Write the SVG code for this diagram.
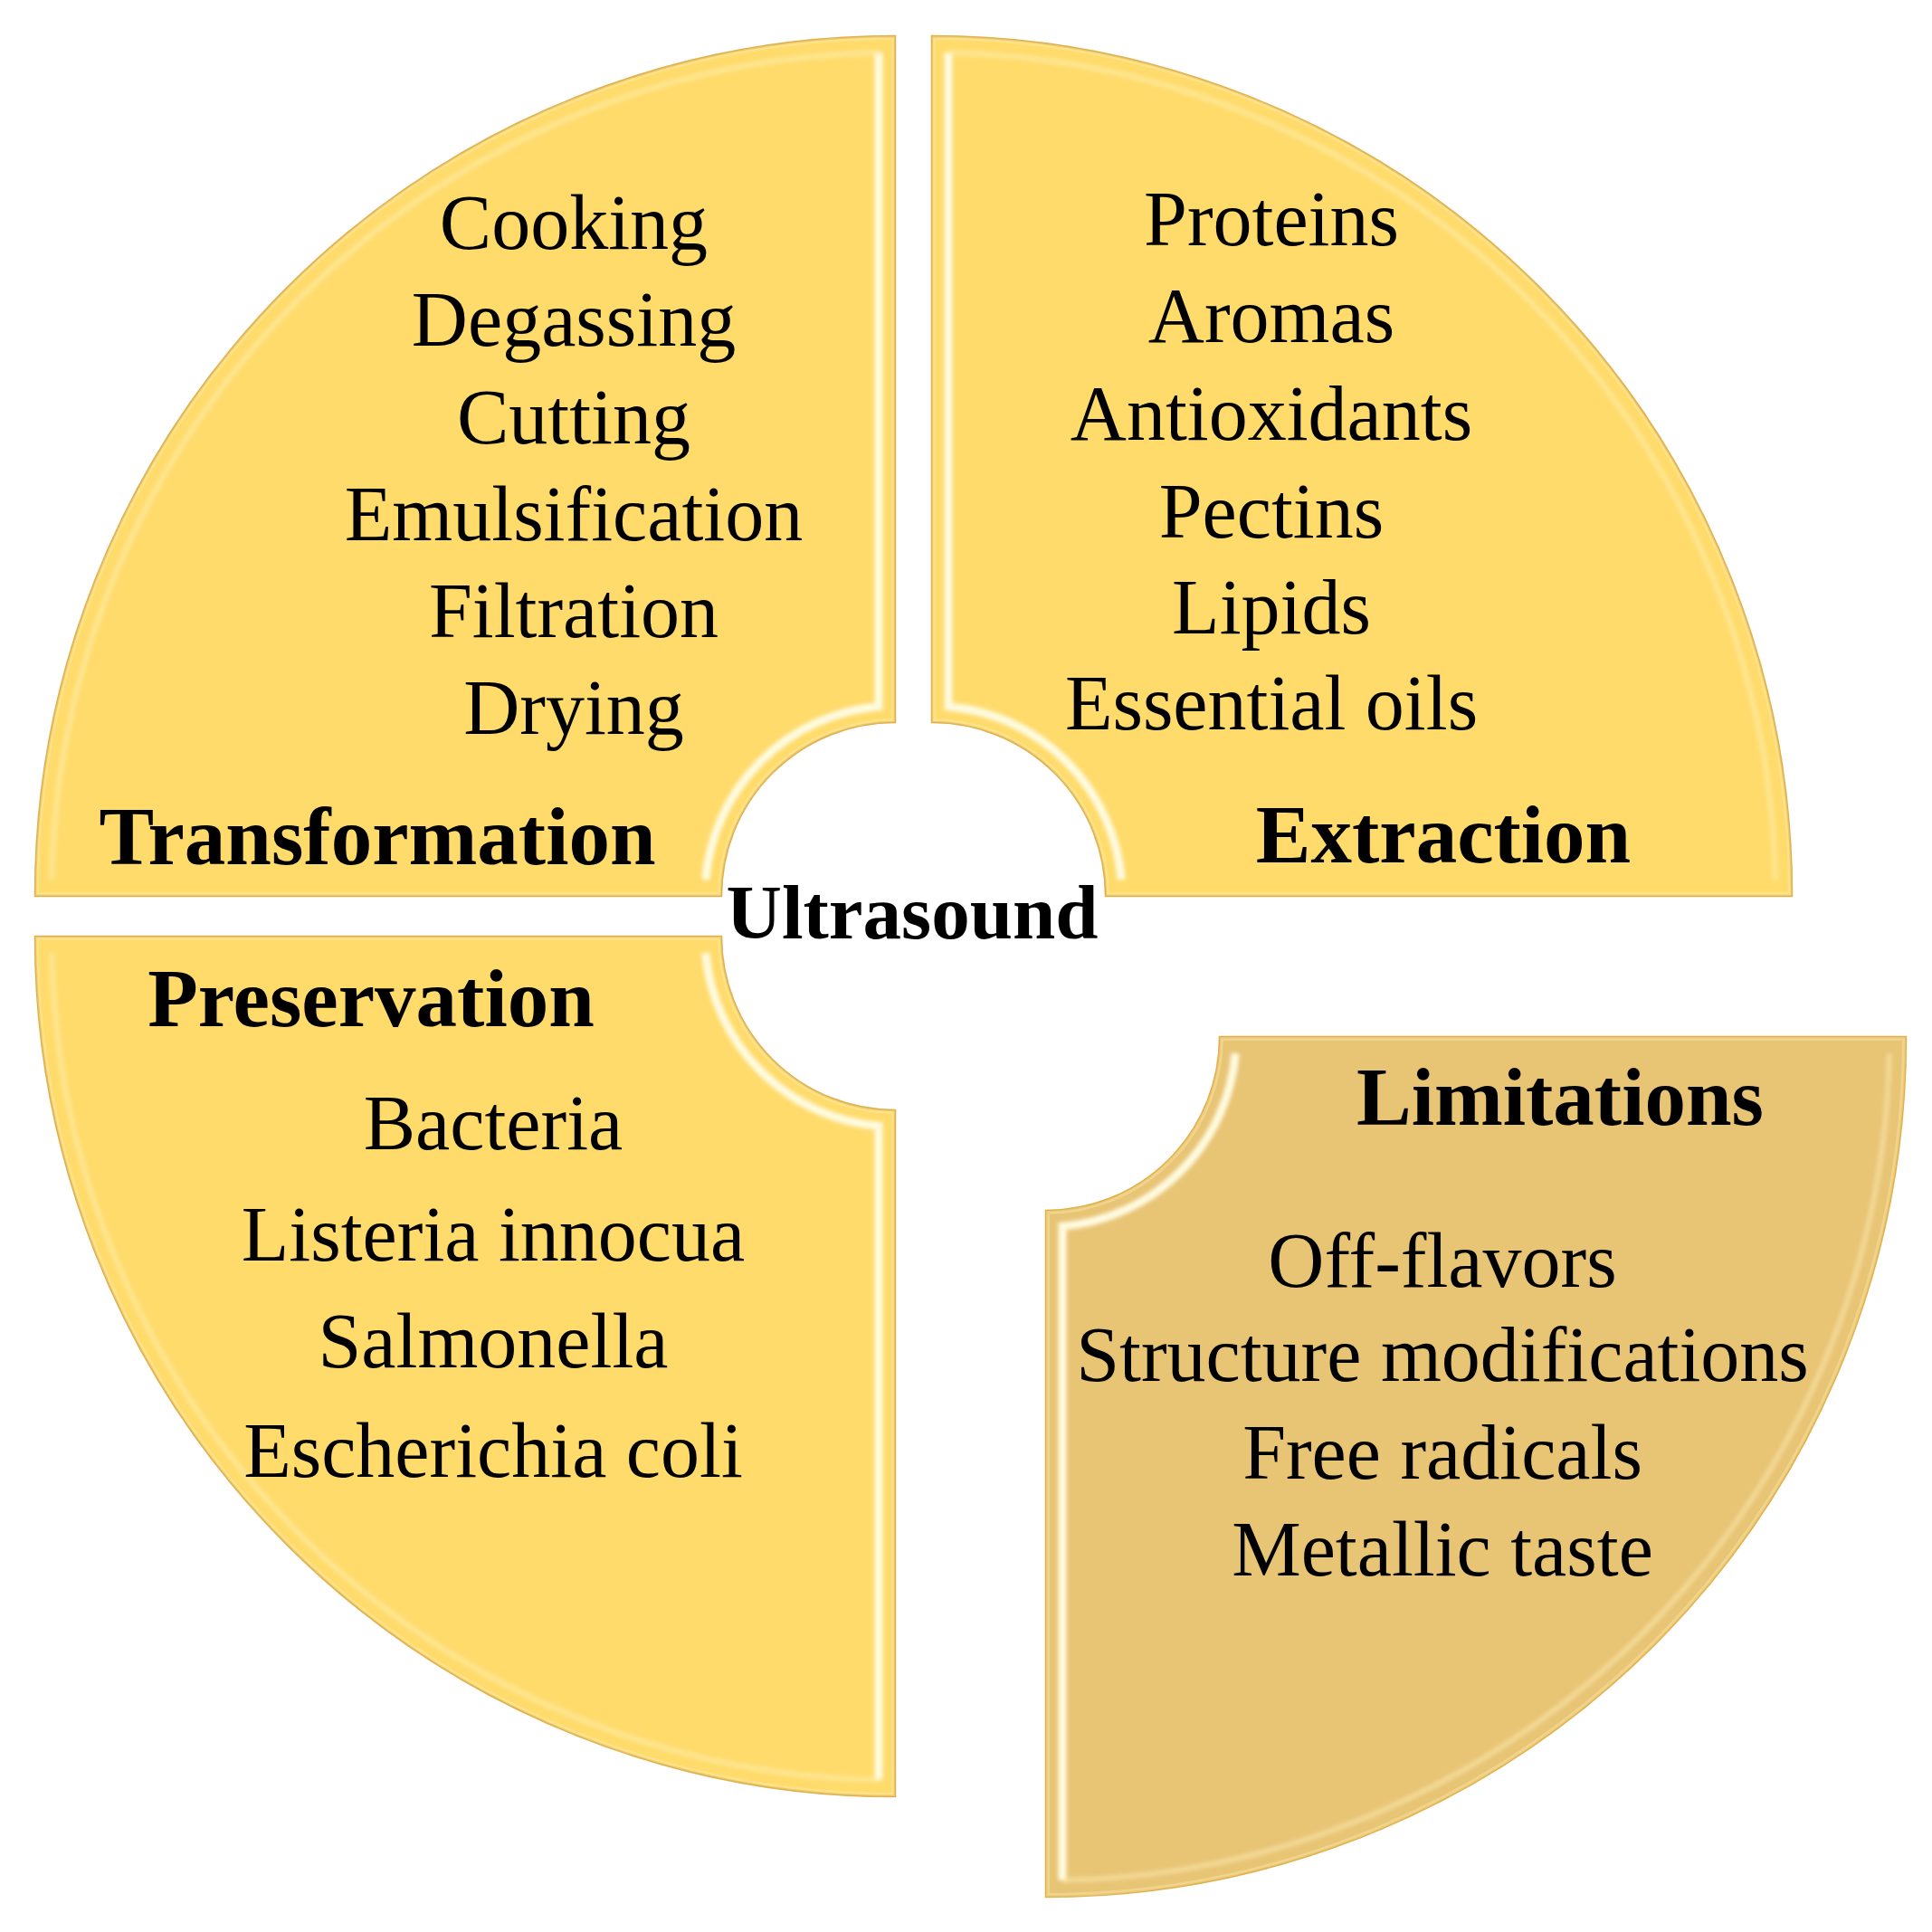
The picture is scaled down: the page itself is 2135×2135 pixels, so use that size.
<svg xmlns="http://www.w3.org/2000/svg" width="2135" height="2135" viewBox="0 0 2135 2135">
<defs>
<style>
.shape{stroke:#E0B04A;stroke-width:2.5}
.yel{fill:#FFDB6C}
.tan{fill:#E8C475}
.edge{fill:none;stroke:#FFF1B8;stroke-width:8;opacity:.35}
.hlv{fill:none;stroke:#FFFBE0;stroke-width:9;stroke-linecap:butt;filter:url(#blur)}
.hlo{fill:none;stroke:#FFF3BE;stroke-width:6;opacity:.45;filter:url(#blur)}
.hlh{fill:none;stroke:#FFF0B4;stroke-width:4;opacity:.25;filter:url(#blur)}
.t{font-family:"Liberation Serif","Times New Roman",serif;font-size:86px;text-anchor:middle;fill:#000}
.h{font-family:"Liberation Serif","Times New Roman",serif;font-size:91px;font-weight:bold;text-anchor:middle;fill:#000}
</style>
<filter id="blur" x="-5%" y="-5%" width="110%" height="110%"><feGaussianBlur stdDeviation="2.2"/></filter>
<clipPath id="cTL"><path d="M989,40 L989,798 A192,192 0 0 0 797,990 L39,990 A950,950 0 0 1 989,40 Z"/></clipPath>
<clipPath id="cTR"><path d="M1030,40 A950,950 0 0 1 1980,990 L1222,990 A192,192 0 0 0 1030,798 Z"/></clipPath>
<clipPath id="cBL"><path d="M39,1035 L797,1035 A192,192 0 0 0 989,1227 L989,1985 A950,950 0 0 1 39,1035 Z"/></clipPath>
<clipPath id="cBR"><path d="M1348,1146 L2106,1146 A950,950 0 0 1 1156,2096 L1156,1338 A192,192 0 0 0 1348,1146 Z"/></clipPath>
</defs>
<rect width="2135" height="2135" fill="#FFFFFF"/>

<g id="transformation">
<path class="shape yel" d="M989,40 L989,798 A192,192 0 0 0 797,990 L39,990 A950,950 0 0 1 989,40 Z"/>
<path class="edge" clip-path="url(#cTL)" d="M989,40 L989,798 A192,192 0 0 0 797,990 L39,990 A950,950 0 0 1 989,40 Z"/>
<path class="hlv" d="M971,58.17 L971,780.77 A210,210 0 0 0 779.77,972"/>
<path class="hlo" d="M57.17,972 A932,932 0 0 1 971,58.17"/>
<path class="hlh" d="M779.77,972 L57.17,972"/>
<text class="t" x="634" y="275">Cooking</text>
<text class="t" x="634" y="382">Degassing</text>
<text class="t" x="634" y="490">Cutting</text>
<text class="t" x="634" y="597">Emulsification</text>
<text class="t" x="634" y="704">Filtration</text>
<text class="t" x="634" y="811">Drying</text>
<text class="h" x="417" y="955">Transformation</text>
</g>

<g id="extraction">
<path class="shape yel" d="M1030,40 A950,950 0 0 1 1980,990 L1222,990 A192,192 0 0 0 1030,798 Z"/>
<path class="edge" clip-path="url(#cTR)" d="M1030,40 A950,950 0 0 1 1980,990 L1222,990 A192,192 0 0 0 1030,798 Z"/>
<path class="hlv" d="M1239.23,972 A210,210 0 0 0 1048,780.77 L1048,58.17"/>
<path class="hlo" d="M1048,58.17 A932,932 0 0 1 1961.83,972"/>
<path class="hlh" d="M1961.83,972 L1239.23,972"/>
<text class="t" x="1405" y="271">Proteins</text>
<text class="t" x="1405" y="378">Aromas</text>
<text class="t" x="1405" y="486">Antioxidants</text>
<text class="t" x="1405" y="594">Pectins</text>
<text class="t" x="1405" y="700">Lipids</text>
<text class="t" x="1405" y="806">Essential oils</text>
<text class="h" x="1595" y="953">Extraction</text>
</g>

<g id="preservation">
<path class="shape yel" d="M39,1035 L797,1035 A192,192 0 0 0 989,1227 L989,1985 A950,950 0 0 1 39,1035 Z"/>
<path class="edge" clip-path="url(#cBL)" d="M39,1035 L797,1035 A192,192 0 0 0 989,1227 L989,1985 A950,950 0 0 1 39,1035 Z"/>
<path class="hlv" d="M779.77,1053 A210,210 0 0 0 971,1244.23 L971,1966.83"/>
<path class="hlo" d="M971,1966.83 A932,932 0 0 1 57.17,1053"/>
<path class="hlh" d="M57.17,1053 L779.77,1053"/>
<text class="h" x="410" y="1134">Preservation</text>
<text class="t" x="545" y="1270">Bacteria</text>
<text class="t" x="545" y="1393">Listeria innocua</text>
<text class="t" x="545" y="1511">Salmonella</text>
<text class="t" x="545" y="1632">Escherichia coli</text>
</g>

<g id="limitations">
<path class="shape tan" d="M1348,1146 L2106,1146 A950,950 0 0 1 1156,2096 L1156,1338 A192,192 0 0 0 1348,1146 Z"/>
<path class="edge" clip-path="url(#cBR)" d="M1348,1146 L2106,1146 A950,950 0 0 1 1156,2096 L1156,1338 A192,192 0 0 0 1348,1146 Z"/>
<path class="hlv" d="M1174,2077.83 L1174,1355.23 A210,210 0 0 0 1365.23,1164"/>
<path class="hlo" d="M2087.83,1164 A932,932 0 0 1 1174,2077.83"/>
<path class="hlh" d="M1365.23,1164 L2087.83,1164"/>
<text class="h" x="1724" y="1243">Limitations</text>
<text class="t" x="1594" y="1422">Off-flavors</text>
<text class="t" x="1594" y="1526">Structure modifications</text>
<text class="t" x="1594" y="1634">Free radicals</text>
<text class="t" x="1594" y="1741">Metallic taste</text>
</g>

<g id="ultrasound">
<text class="h" x="1008" y="1037" style="font-size:85px">Ultrasound</text>
</g>

<g id="connectors"></g>
</svg>
